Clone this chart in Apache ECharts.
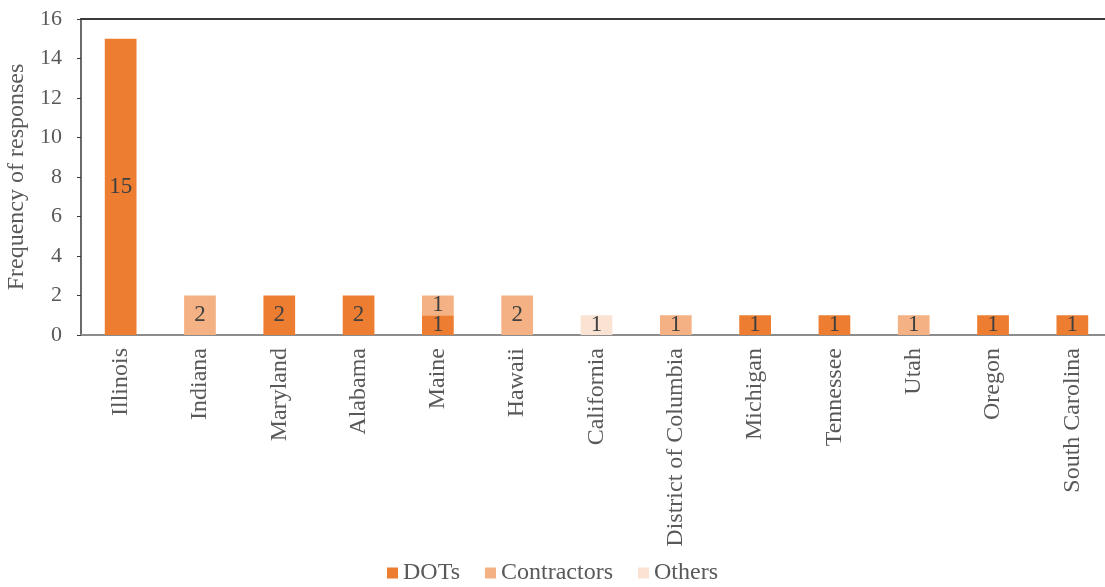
<!DOCTYPE html>
<html>
<head>
<meta charset="utf-8">
<script src="https://cdn.jsdelivr.net/npm/echarts@6/dist/echarts.min.js"></script>
<style>
  html, body { margin: 0; padding: 0; background: #ffffff; }
  #chart { width: 1105px; height: 587px; }
</style>
</head>
<body>
<div id="chart"></div>
<script>
// Survey responses by state and respondent type
const states = ['Illinois', 'Indiana', 'Maryland', 'Alabama', 'Maine', 'Hawaii', 'California',
  'District of Columbia', 'Michigan', 'Tennessee', 'Utah', 'Oregon', 'South Carolina'];
const dots        = [15, 0, 2, 2, 1, 0, 0, 0, 1, 1, 0, 1, 1];
const contractors = [0, 2, 0, 0, 1, 2, 0, 1, 0, 0, 1, 0, 0];
const others      = [0, 0, 0, 0, 0, 0, 1, 0, 0, 0, 0, 0, 0];
const yTicks = [0, 2, 4, 6, 8, 10, 12, 14, 16];

const FONT = '"Liberation Serif", "Times New Roman", serif';
const TEXT = '#595959';

function seriesOf(name, data, color) {
  return {
    name: name,
    type: 'bar',
    stack: 'total',
    data: data,
    barWidth: '40%',
    itemStyle: { color: color },
    label: {
      show: true,
      position: 'inside',
      fontFamily: FONT,
      fontSize: 23,
      color: '#404040',
      formatter: p => (p.value ? String(p.value) : '')
    }
  };
}

const chart = echarts.init(document.getElementById('chart'));
chart.setOption({
  animation: false,
  grid: { left: 81, top: 19, width: 1031, height: 316, outerBoundsMode: 'none', containLabel: false },
  legend: {
    bottom: 2,
    left: 'center',
    padding: 0,
    itemWidth: 11,
    itemHeight: 11,
    itemGap: 25,
    icon: 'rect',
    textStyle: { fontFamily: FONT, fontSize: 24, color: TEXT },
    data: ['DOTs', 'Contractors', 'Others']
  },
  xAxis: [{
    type: 'category',
    data: states,
    axisLine: { lineStyle: { color: '#8c8c8c', width: 2 } },
    axisTick: { show: false },
    axisLabel: { rotate: 90, interval: 0, margin: 13, fontFamily: FONT, fontSize: 24, color: TEXT }
  }, {
    type: 'category',
    position: 'top',
    data: states,
    axisLine: { lineStyle: { color: '#3a3a3a', width: 2 } },
    axisTick: { show: false },
    axisLabel: { show: false }
  }],
  yAxis: {
    type: 'value',
    min: yTicks[0],
    max: yTicks[yTicks.length - 1],
    interval: 2,
    name: 'Frequency of responses',
    nameLocation: 'middle',
    nameGap: 44,
    nameTextStyle: { fontFamily: FONT, fontSize: 24, color: TEXT },
    axisLine: { show: true, lineStyle: { color: '#3a3a3a', width: 1.5 } },
    axisTick: { show: true, length: 4, lineStyle: { color: '#3a3a3a' } },
    splitLine: { show: false },
    axisLabel: { fontFamily: FONT, fontSize: 22, color: TEXT, margin: 19 }
  },
  series: [
    seriesOf('DOTs', dots, '#ED7D31'),
    seriesOf('Contractors', contractors, '#F4B183'),
    seriesOf('Others', others, '#FBE3D4')
  ]
});
</script>
</body>
</html>
